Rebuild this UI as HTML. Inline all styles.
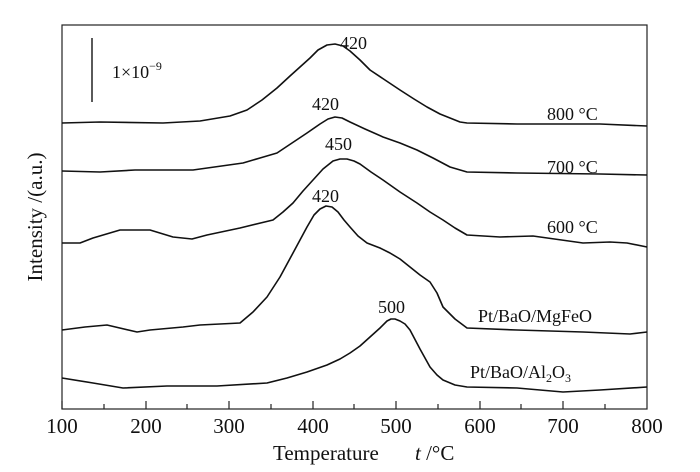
<!DOCTYPE html>
<html><head><meta charset="utf-8"><style>
body{margin:0;background:#fff;}
svg{display:block;font-family:"Liberation Serif",serif;}
</style></head><body>
<svg width="700" height="472" viewBox="0 0 700 472" xmlns="http://www.w3.org/2000/svg">
<rect x="62" y="25" width="585" height="384" fill="none" stroke="#222" stroke-width="1.2"/>
<g stroke="#222" stroke-width="1.2">
<line x1="62" y1="409" x2="62" y2="401"/>
<line x1="146" y1="409" x2="146" y2="401"/><line x1="104" y1="409" x2="104" y2="404"/>
<line x1="229" y1="409" x2="229" y2="401"/><line x1="187" y1="409" x2="187" y2="404"/>
<line x1="313" y1="409" x2="313" y2="401"/><line x1="271" y1="409" x2="271" y2="404"/>
<line x1="396" y1="409" x2="396" y2="401"/><line x1="354" y1="409" x2="354" y2="404"/>
<line x1="480" y1="409" x2="480" y2="401"/><line x1="438" y1="409" x2="438" y2="404"/>
<line x1="563" y1="409" x2="563" y2="401"/><line x1="521" y1="409" x2="521" y2="404"/>
<line x1="605" y1="409" x2="605" y2="404"/>
</g>
<g font-size="21" text-anchor="middle" fill="#111">
<text x="62" y="433">100</text><text x="146" y="433">200</text><text x="229" y="433">300</text>
<text x="313" y="433">400</text><text x="396" y="433">500</text><text x="480" y="433">600</text>
<text x="563" y="433">700</text><text x="647" y="433">800</text>
</g>
<text x="273" y="460" font-size="21" fill="#111">Temperature</text>
<text x="415" y="460" font-size="21" fill="#111"><tspan font-style="italic">t</tspan> /°C</text>
<text transform="translate(42,217) rotate(-90)" font-size="21" text-anchor="middle" fill="#111">Intensity /(a.u.)</text>
<line x1="92" y1="38" x2="92" y2="102" stroke="#222" stroke-width="1.5"/>
<text x="112" y="78" font-size="18" fill="#111">1×10<tspan font-size="12" dy="-8">−9</tspan></text>
<g fill="none" stroke="#111" stroke-width="1.6" stroke-linejoin="round">
<polyline points="62,123 100,122 163,123 200,121 230,116 247,110 262,100 277,88 290,76 300,67 310,58 318,50 327,45 335,44 343,46 350,51 360,60 370,70 385,80 400,90 414,99 427,107 440,114 450,118 460,122 467,123 517,124 600,124 647,126"/>
<polyline points="62,171 100,172 135,170 193,170 243,163 260,158 277,153 292,143 307,133 320,124 328,119 335,117 342,118 350,122 365,129 383,137 400,143 417,150 433,158 450,167 467,172 517,173 600,174 647,175"/>
<polyline points="62,243 80,243 93,238 120,230 150,230 173,237 192,239 207,235 240,228 273,220 283,212 293,203 303,191 313,180 323,169 333,161 340,159 347,159 354,161 360,164 371,172 383,180 400,192 417,203 430,212 443,220 455,228 467,235 500,237 533,236 583,243 610,242 627,243 647,247"/>
<polyline points="62,330 85,327 107,325 137,332 150,330 183,327 200,325 240,323 253,312 267,297 280,277 293,253 300,240 307,227 314,215 320,209 326,206 332,207 338,212 344,220 350,227 358,236 367,243 380,248 390,253 400,259 410,267 420,275 430,282 437,293 443,307 455,319 467,328 517,330 583,332 630,334 647,332"/>
<polyline points="62,378 93,383 123,388 167,386 217,386 267,383 287,378 307,372 327,365 340,359 350,353 360,346 370,337 380,328 387,321 391,319 395,319 400,321 405,324 410,330 420,349 430,367 437,375 443,380 455,385 467,387 517,388 563,392 600,390 647,387"/>
</g>
<g font-size="18" fill="#111">
<text x="340" y="49">420</text>
<text x="312" y="110">420</text>
<text x="325" y="150">450</text>
<text x="312" y="202">420</text>
<text x="378" y="313">500</text>
<text x="547" y="120">800 °C</text>
<text x="547" y="173">700 °C</text>
<text x="547" y="233">600 °C</text>
<text x="478" y="322">Pt/BaO/MgFeO</text>
<text x="470" y="378">Pt/BaO/Al<tspan font-size="12" dy="4">2</tspan><tspan dy="-4">O</tspan><tspan font-size="12" dy="4">3</tspan></text>
</g>
</svg>
</body></html>
